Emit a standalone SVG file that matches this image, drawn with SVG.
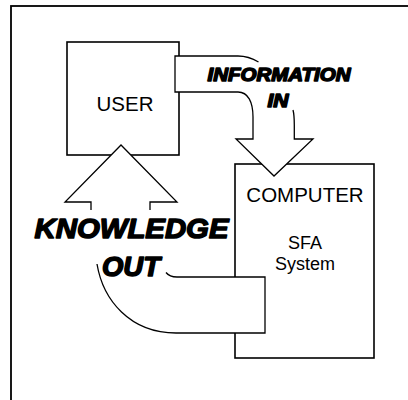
<svg xmlns="http://www.w3.org/2000/svg" width="408" height="400" viewBox="0 0 408 400">
  <style>
    .box { fill: #fff; stroke: #000; stroke-width: 1.6; }
    .fillw { fill: #fff; stroke: none; }
    .line { fill: none; stroke: #000; stroke-width: 1.3; stroke-linejoin: miter; }
    .label { font-family: "Liberation Sans", Arial, sans-serif; font-size: 20.5px; fill: #000; text-anchor: middle; }
    .small { font-size: 18px; }
    .heavy { font-family: "Liberation Sans", Arial, sans-serif; font-weight: bold; font-style: italic; fill: #000; stroke: #000; stroke-width: 1.5; stroke-linejoin: round; text-anchor: middle; }
  </style>

  <!-- page frame (runs past the right and bottom edges) -->
  <rect x="11" y="6" width="430" height="430" fill="#fff" stroke="#000" stroke-width="1.8"/>

  <g id="user">
    <rect class="box" x="67" y="42" width="112" height="113"/>
    <text class="label" x="125" y="111">USER</text>
  </g>

  <g id="computer">
    <rect class="box" x="235" y="164" width="139" height="194"/>
    <text class="label" x="305" y="202" font-size="21">COMPUTER</text>
    <text class="label small" x="305" y="249">SFA</text>
    <text class="label small" x="305" y="270">System</text>
  </g>

  <g id="connectors">
    <!-- information in: block arrow from USER down into COMPUTER -->
    <g id="information-in">
      <path class="fillw" d="M175,56 H238 C250,56 260,60 268,66 C285,80 294,95 294,110 V139 H313 L274,176 L236,139 H253 V117 C253,102 248,92 238,92 H175 Z"/>
      <path class="line" d="M258.5,62 C251,57.5 245,56 238,56 H175 V92 H238 C248,92 253,102 253,117 V139 H236 L274,176 L313,139 H294.3 V125 C294.3,118 293.8,113 293,110"/>
      <text class="heavy" x="279" y="81" font-size="19" textLength="143" lengthAdjust="spacingAndGlyphs">INFORMATION</text>
      <text class="heavy" x="278" y="107" font-size="19" textLength="21" lengthAdjust="spacingAndGlyphs">IN</text>
    </g>

    <!-- knowledge out: block arrow from COMPUTER back up to USER -->
    <g id="knowledge-out">
      <path class="fillw" d="M97,262 C103,300 130,333 176,333 H265 V277 H177 Q170,277 166,272 Z"/>
      <path class="fillw" d="M91,212 V202 H65 L121,145 L177,202 H150 V212 Z"/>
      <path class="line" d="M91,210 V202 H65 L121,145 L177,202 H150 V210"/>
      <path class="line" d="M97,264 C103,300 130,333 176,333 H265 V277 H177 Q169.5,277 166,272.5"/>
      <text class="heavy" x="131.5" y="237.5" font-size="28" textLength="194" lengthAdjust="spacingAndGlyphs">KNOWLEDGE</text>
      <text class="heavy" x="131" y="276" font-size="27" textLength="58" lengthAdjust="spacingAndGlyphs">OUT</text>
    </g>
  </g>
</svg>
